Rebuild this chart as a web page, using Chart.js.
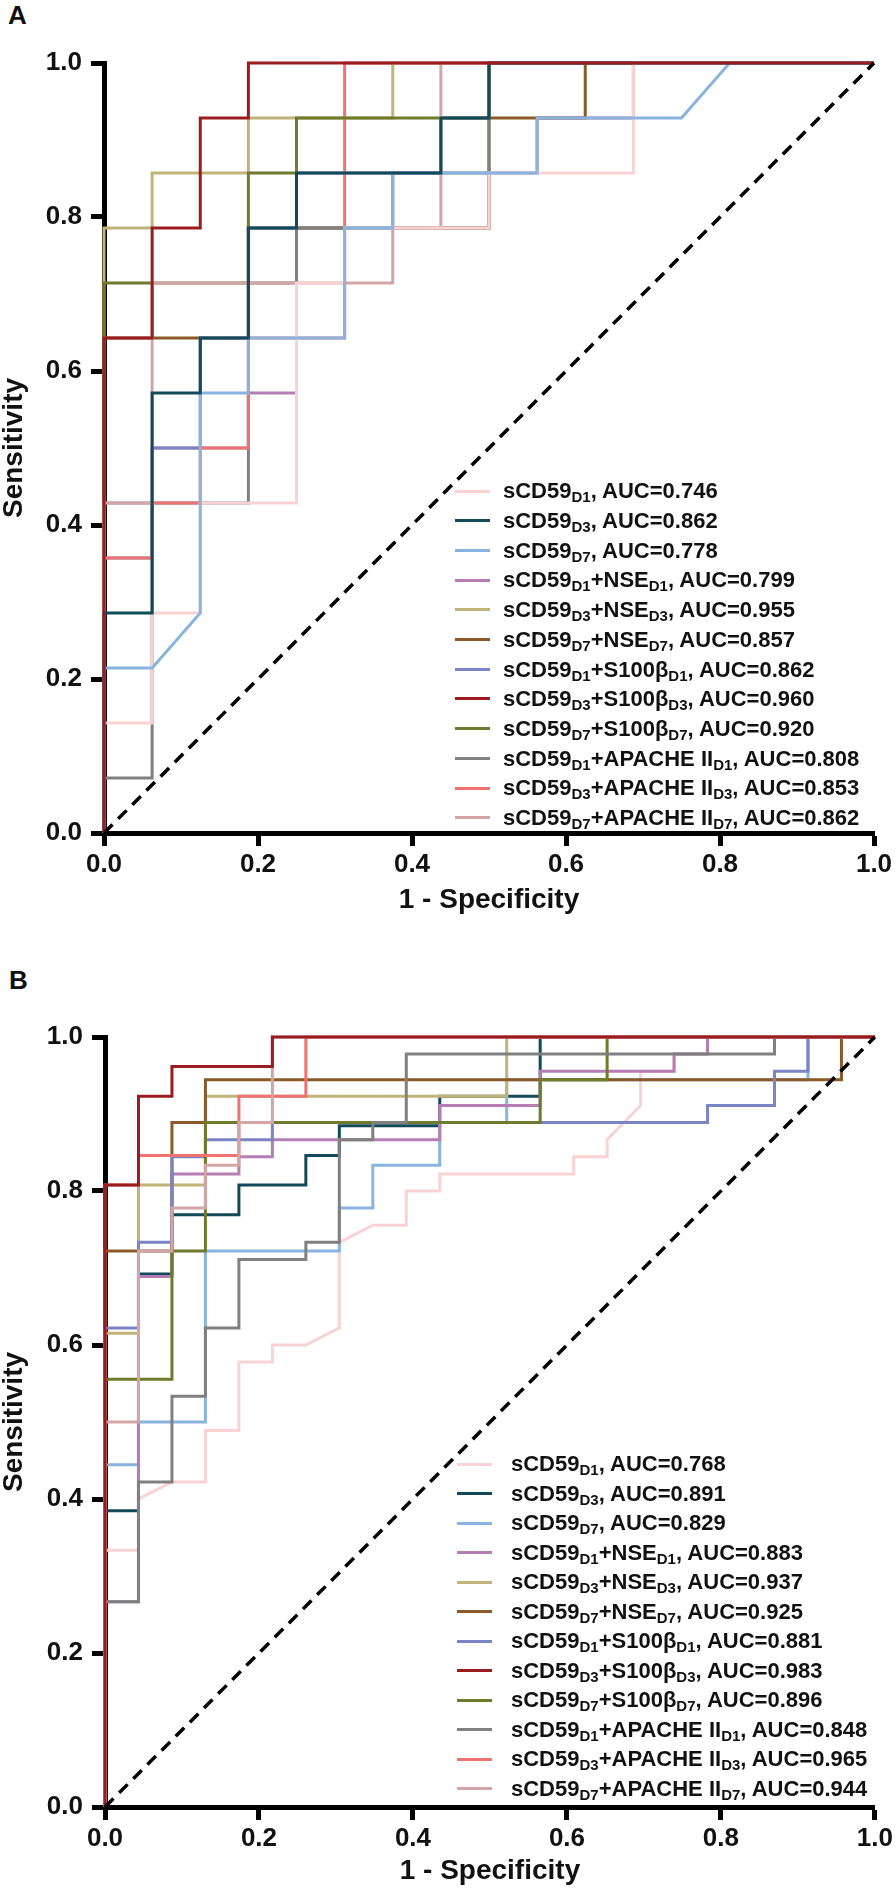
<!DOCTYPE html>
<html>
<head>
<meta charset="utf-8">
<script src="https://cdn.jsdelivr.net/npm/chart.js@4.4.1/dist/chart.umd.min.js"></script>
<style>
  html, body { margin: 0; padding: 0; background: #fff; }
  body { width: 896px; height: 1895px; position: relative; overflow: hidden;
         font-family: "Liberation Sans", Arial, sans-serif; color: #111; }
  .panel { position: absolute; left: 0; width: 896px; }
  .panel canvas { position: absolute; left: 0; top: 0; }
  .tag { position: absolute; font-weight: bold; font-size: 26px; line-height: 1; }
  .sw { position: absolute; width: 35px; height: 3px; }
  .row { position: absolute; white-space: nowrap; font-weight: bold; font-size: 22px; line-height: 22px; }
  .row sub { font-size: 15px; vertical-align: -4px; line-height: 0; }
</style>
</head>
<body>
<div class="tag" style="left:8px;top:2px">A</div>
<div class="panel" id="panelA" style="top:0;height:940px"><canvas id="rocA" width="896" height="940"></canvas></div>
<div class="tag" style="left:9px;top:967px">B</div>
<div class="panel" id="panelB" style="top:940px;height:955px"><canvas id="rocB" width="896" height="955"></canvas></div>

<script>
// ─── DATA ───
const xTicks = [0, 0.2, 0.4, 0.6, 0.8, 1.0];
const yTicks = [0, 0.2, 0.4, 0.6, 0.8, 1.0];
const days = ['D1', 'D3', 'D7', 'D1', 'D3', 'D7', 'D1', 'D3', 'D7', 'D1', 'D3', 'D7'];
const partners = ['', '', '', 'NSE', 'NSE', 'NSE', 'S100β', 'S100β', 'S100β', 'APACHE II', 'APACHE II', 'APACHE II'];
const aucA = ['0.746', '0.862', '0.778', '0.799', '0.955', '0.857', '0.862', '0.960', '0.920', '0.808', '0.853', '0.862'];
const aucB = ['0.768', '0.891', '0.829', '0.883', '0.937', '0.925', '0.881', '0.983', '0.896', '0.848', '0.965', '0.944'];
const chanceLine = [[0, 0], [1, 1]];

// ROC points as [false positives, true positives] counts
const negA = 16;
const posA = [14, 14, 14, 14, 14, 14, 14, 14, 14, 14, 14, 14];
const rocA = [
  [[0,0],[0,2],[1,2],[1,4],[2,4],[2,6],[4,6],[4,10],[5,10],[5,11],[8,11],[8,12],[11,12],[11,14],[16,14]],
  [[0,0],[0,4],[1,4],[1,8],[2,8],[2,9],[3,9],[3,11],[4,11],[4,12],[7,12],[7,13],[8,13],[8,14],[16,14]],
  [[0,0],[0,3],[1,3],[2,4],[2,8],[3,8],[3,9],[5,9],[5,11],[6,11],[6,12],[9,12],[9,13],[12,13],[13,14],[16,14]],
  [[0,0],[0,6],[1,6],[1,7],[3,7],[3,8],[4,8],[4,11],[8,11],[8,12],[9,12],[9,13],[11,13],[11,14],[16,14]],
  [[0,0],[0,11],[1,11],[1,12],[3,12],[3,13],[6,13],[6,14],[16,14]],
  [[0,0],[0,9],[3,9],[3,11],[8,11],[8,13],[10,13],[10,14],[16,14]],
  [[0,0],[0,5],[1,5],[1,7],[2,7],[2,9],[3,9],[3,11],[4,11],[4,12],[7,12],[7,13],[8,13],[8,14],[16,14]],
  [[0,0],[0,9],[1,9],[1,11],[2,11],[2,13],[3,13],[3,14],[16,14]],
  [[0,0],[0,10],[3,10],[3,12],[4,12],[4,13],[8,13],[8,14],[16,14]],
  [[0,0],[0,1],[1,1],[1,6],[3,6],[3,10],[4,10],[4,11],[6,11],[6,12],[8,12],[8,14],[16,14]],
  [[0,0],[0,5],[1,5],[1,6],[2,6],[2,7],[3,7],[3,9],[5,9],[5,14],[16,14]],
  [[0,0],[0,6],[1,6],[1,10],[6,10],[6,11],[7,11],[7,14],[16,14]]
];

const negB = 23;
const posB = [45, 26, 18, 45, 26, 18, 45, 26, 18, 45, 26, 18];
const rocB = [
  [[0,0],[0,15],[1,15],[1,18],[2,19],[3,19],[3,22],[4,22],[4,26],[5,26],[5,27],[6,27],[7,28],[7,33],[8,34],[9,34],[9,36],[10,36],[10,37],[14,37],[14,38],[15,38],[15,39],[16,41],[16,43],[17,43],[17,44],[18,44],[18,45],[23,45]],
  [[0,0],[0,10],[1,10],[1,18],[2,18],[2,20],[4,20],[4,21],[6,21],[6,22],[7,22],[7,23],[10,23],[10,24],[13,24],[13,26],[23,26]],
  [[0,0],[0,8],[1,8],[1,9],[3,9],[3,13],[7,13],[7,14],[8,14],[8,15],[10,15],[10,16],[12,16],[12,17],[21,17],[21,18],[23,18]],
  [[0,0],[0,12],[1,12],[1,31],[2,31],[2,37],[4,37],[4,38],[5,38],[5,39],[10,39],[10,41],[13,41],[13,43],[17,43],[17,44],[18,44],[18,45],[23,45]],
  [[0,0],[0,16],[1,16],[1,21],[3,21],[3,24],[12,24],[12,26],[23,26]],
  [[0,0],[0,13],[2,13],[2,16],[3,16],[3,17],[22,17],[22,18],[23,18]],
  [[0,0],[0,28],[1,28],[1,33],[2,33],[2,38],[3,38],[3,39],[5,39],[5,40],[18,40],[18,41],[20,41],[20,43],[21,43],[21,45],[23,45]],
  [[0,0],[0,21],[1,21],[1,24],[2,24],[2,25],[5,25],[5,26],[23,26]],
  [[0,0],[0,10],[2,10],[2,13],[3,13],[3,16],[13,16],[13,17],[15,17],[15,18],[23,18]],
  [[0,0],[0,12],[1,12],[1,19],[2,19],[2,24],[3,24],[3,28],[4,28],[4,32],[6,32],[6,33],[7,33],[7,39],[8,39],[8,40],[9,40],[9,44],[20,44],[20,45],[23,45]],
  [[0,0],[0,21],[1,21],[1,22],[4,22],[4,24],[6,24],[6,26],[23,26]],
  [[0,0],[0,9],[1,9],[1,13],[2,13],[2,14],[3,14],[3,15],[4,15],[4,16],[5,16],[5,18],[23,18]]
];

// ─── STYLE ───
const FONT = "'Liberation Sans', Arial, sans-serif";
const colors = ['#f9d3d3', '#124a5a', '#8ab4e0', '#b57db3', '#c0b47a', '#8b5a28',
                '#7a84c6', '#9a1c20', '#6f7a2a', '#808080', '#ef7272', '#d4a5a7'];
// lower value = drawn on top
const layerA = [3, 1, 2, 11, 6, 10, 8, 0, 5, 9, 7, 4];
const layerB = [12, 11, 10, 9, 8, 7, 6, 0, 4, 3, 2, 1];

function legendName(i) {
  let s = 'sCD59<sub>' + days[i] + '</sub>';
  if (partners[i]) s += '+' + partners[i] + '<sub>' + days[i] + '</sub>';
  return s;
}

function makeSets(roc, neg, pos, layer) {
  const sets = roc.map((pts, i) => ({
    data: pts.map(p => ({ x: p[0] / neg, y: p[1] / pos[i] })),
    borderColor: colors[i],
    borderWidth: 3,
    pointRadius: 0,
    tension: 0,
    fill: false,
    clip: false,
    order: layer[i]
  }));
  sets.push({
    data: chanceLine.map(p => ({ x: p[0], y: p[1] })),
    borderColor: '#000',
    borderWidth: 3.5,
    borderDash: [12, 8],
    pointRadius: 0,
    fill: false,
    clip: false,
    order: -1
  });
  return sets;
}

function axisX(height, titlePad) {
  return {
    type: 'linear', position: 'bottom', min: 0, max: 1,
    afterBuildTicks: s => { s.ticks = xTicks.map(v => ({ value: v })); },
    afterFit: s => { s.height = height; },
    ticks: { font: { family: FONT, size: 26, weight: 'bold' }, color: '#111', padding: 3,
             maxRotation: 0, autoSkip: false, callback: v => v.toFixed(1) },
    grid: { drawOnChartArea: false, drawTicks: true, tickLength: 13, tickWidth: 5, tickColor: '#000' },
    border: { display: true, color: '#000', width: 5 },
    title: { display: true, text: '1 - Specificity', color: '#111',
             font: { family: FONT, size: 28, weight: 'bold', lineHeight: 1 },
             padding: { top: 0, bottom: titlePad } }
  };
}

function axisY(width) {
  return {
    type: 'linear', position: 'left', min: 0, max: 1,
    afterBuildTicks: s => { s.ticks = yTicks.map(v => ({ value: v })); },
    afterFit: s => { s.width = width; },
    ticks: { font: { family: FONT, size: 26, weight: 'bold' }, color: '#111', padding: 9,
             autoSkip: false, callback: v => v.toFixed(1) },
    grid: { drawOnChartArea: false, drawTicks: true, tickLength: 13, tickWidth: 5, tickColor: '#000' },
    border: { display: true, color: '#000', width: 5 },
    title: { display: true, text: 'Sensitivity', color: '#111',
             font: { family: FONT, size: 28, weight: 'bold', lineHeight: 1 },
             padding: { top: 0, bottom: 0 } }
  };
}

function makeChart(id, sets, pad, yWidth, xHeight, titlePad) {
  return new Chart(document.getElementById(id), {
    type: 'line',
    data: { datasets: sets },
    options: {
      responsive: false,
      animation: false,
      devicePixelRatio: 1,
      layout: { padding: pad },
      plugins: { legend: { display: false }, tooltip: { enabled: false } },
      elements: { line: { borderJoinStyle: 'miter', borderCapStyle: 'butt' } },
      scales: { x: axisX(xHeight, titlePad), y: axisY(yWidth) }
    }
  });
}

// ─── CHARTS ───
makeChart('rocA', makeSets(rocA, negA, posA, layerA), { left: 0, right: 22, top: 63, bottom: 0 }, 104, 107, 26);
makeChart('rocB', makeSets(rocB, negB, posB, layerB), { left: 0, right: 21, top: 97, bottom: 0 }, 105, 88, 10);

// ─── LEGENDS (html so subscripts stay real text) ───
function buildLegend(panelId, aucs, firstY, step, swLeft, textLeft) {
  const panel = document.getElementById(panelId);
  aucs.forEach((auc, i) => {
    const cy = firstY + i * step;
    const sw = document.createElement('div');
    sw.className = 'sw';
    sw.style.left = swLeft + 'px';
    sw.style.top = (cy - 1.5) + 'px';
    sw.style.background = colors[i];
    panel.appendChild(sw);
    const row = document.createElement('div');
    row.className = 'row';
    row.style.left = textLeft + 'px';
    row.style.top = (cy - 10.7) + 'px';
    row.innerHTML = legendName(i) + ', AUC=' + auc;
    panel.appendChild(row);
  });
}
buildLegend('panelA', aucA, 491, 29.7, 455, 503);
buildLegend('panelB', aucB, 1464 - 940, 29.5, 457, 511);
</script>
</body>
</html>
